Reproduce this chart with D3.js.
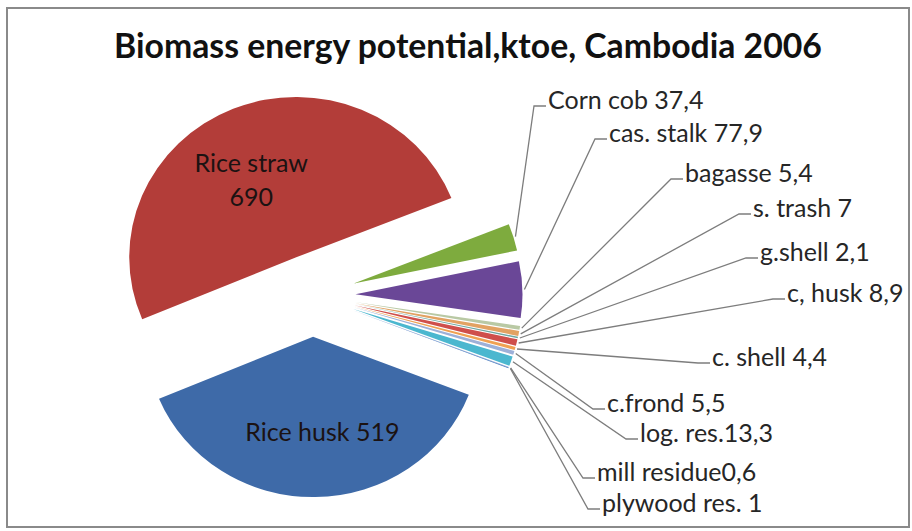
<!DOCTYPE html>
<html>
<head>
<meta charset="utf-8">
<script src="https://cdn.jsdelivr.net/npm/d3@7"></script>
<style>
	body { margin: 0; background: #fff; }
	svg { display: block; font-family: Lato, "Open Sans", sans-serif; }
	.title { font-weight: bold; fill: #111; }
	.leader { fill: none; stroke: #7d7d7d; stroke-width: 1.3; }
	.label { fill: #262626; }
	.inner { fill: #1b1212; }
</style>
</head>
<body>
<div id="graphic"></div>
<script>
// Data, clockwise from the rice straw slice
var NAMES = ['Rice straw', 'Corn cob', 'cas. stalk', 'bagasse', 's. trash', 'g.shell', 'c, husk',
	'c. shell', 'c.frond', 'log. res.', 'mill residue', 'plywood res.', 'Rice husk'];
var VALUES = [690, 37.4, 77.9, 5.4, 7, 2.1, 8.9, 4.4, 5.5, 13.3, 0.6, 1, 519];
var NO_SPACE = ['log. res.', 'mill residue'];
var TITLE = 'Biomass energy potential,ktoe, Cambodia 2006';

// Styles
var COLORS = ['#b33d39', '#7eab3e', '#6a4797', '#b9c9a4', '#e2a262', '#6fa7a1', '#cf4f4b',
	'#f0a152', '#9db0d8', '#4bb7cf', '#8c9fd0', '#4a7cc0', '#3e6aa8'];

// Layout
var WIDTH = 912;
var HEIGHT = 531;
var CENTER = [312.5, 295.5];
var RADIUS = 167;
var SQUASH = 0.96;
var EXPLODE = 43;
var START = 247.3 * Math.PI / 180;
var LABEL_SIZE = 25;

// where the outside labels were dragged to: [left x, middle y]
var LABEL_POS = {
	'Corn cob': [548, 100],
	'cas. stalk': [609, 133],
	'bagasse': [685, 173],
	's. trash': [753, 208],
	'g.shell': [760, 252],
	'c, husk': [787, 293],
	'c. shell': [712, 357],
	'c.frond': [607, 403],
	'log. res.': [640, 433],
	'mill residue': [597, 472],
	'plywood res.': [602, 503]
};
var INNER = ['Rice straw', 'Rice husk'];
var INNER_NUDGE = { 'Rice straw': [-9, 8], 'Rice husk': [8, 4] };

function fmt(v) {
	return String(v).replace('.', ',');
}

function render() {
	var svg = d3.select('#graphic').append('svg')
		.attr('width', WIDTH)
		.attr('height', HEIGHT);

	// chart frame
	svg.append('rect')
		.attr('x', 7).attr('y', 8)
		.attr('width', WIDTH - 10).attr('height', HEIGHT - 12)
		.attr('fill', '#fff')
		.attr('stroke', '#8a8a8a')
		.attr('stroke-width', 2);

	var title = svg.append('text')
		.attr('class', 'title')
		.attr('x', 468)
		.attr('y', 58)
		.attr('text-anchor', 'middle')
		.style('font-size', '30px')
		.text(TITLE);
	var tw = title.node().getComputedTextLength();
	title.style('font-size', (30 * 708 / tw) + 'px');

	var data = NAMES.map(function(n, i) {
		return { name: n, value: VALUES[i], color: COLORS[i] };
	});

	var pie = d3.pie()
		.sort(null)
		.value(function(d) { return d.value; })
		.startAngle(START)
		.endAngle(START + 2 * Math.PI);

	var arcs = pie(data);

	var arc = d3.arc()
		.innerRadius(0)
		.outerRadius(RADIUS);

	function mid(d) {
		return (d.startAngle + d.endAngle) / 2;
	}

	// point at angle a and radius r, measured from the exploded apex of slice d
	function point(d, a, r) {
		var m = mid(d);
		return [
			CENTER[0] + Math.sin(m) * EXPLODE + Math.sin(a) * r,
			CENTER[1] + SQUASH * (-Math.cos(m) * EXPLODE - Math.cos(a) * r)
		];
	}

	var pieG = svg.append('g')
		.attr('transform', 'translate(' + CENTER + ') scale(1,' + SQUASH + ')');

	pieG.selectAll('path')
		.data(arcs)
		.enter().append('path')
		.attr('d', arc)
		.attr('fill', function(d) { return d.data.color; })
		.attr('transform', function(d) {
			var m = mid(d);
			return 'translate(' + [Math.sin(m) * EXPLODE, -Math.cos(m) * EXPLODE] + ')';
		});

	// inner labels on the two big slices
	var inner = arcs.filter(function(d) { return INNER.indexOf(d.data.name) > -1; });
	inner.forEach(function(d) {
		var p = point(d, mid(d), RADIUS * 0.57);
		var n = INNER_NUDGE[d.data.name];
		var t = svg.append('text')
			.attr('class', 'inner')
			.attr('text-anchor', 'middle')
			.style('font-size', LABEL_SIZE + 'px')
			.attr('x', p[0] + n[0])
			.attr('y', p[1] + n[1]);
		if (d.data.name == 'Rice straw') {
			t.append('tspan').attr('x', p[0] + n[0]).attr('dy', '-0.35em').text(d.data.name);
			t.append('tspan').attr('x', p[0] + n[0]).attr('dy', '1.35em').text(fmt(d.data.value));
		} else {
			t.attr('dy', '0.35em').text(d.data.name + ' ' + fmt(d.data.value));
		}
	});

	// leader lines and outside labels
	var outer = arcs.filter(function(d) { return LABEL_POS[d.data.name]; });

	var line = d3.line();

	svg.append('g')
		.selectAll('path')
		.data(outer)
		.enter().append('path')
		.attr('class', 'leader')
		.attr('d', function(d) {
			var lp = LABEL_POS[d.data.name];
			var y = lp[1] + 6;
			return line([point(d, mid(d), RADIUS + 2), [lp[0] - 14, y], [lp[0] - 2, y]]);
		});

	svg.append('g')
		.selectAll('text')
		.data(outer)
		.enter().append('text')
		.attr('class', 'label')
		.attr('x', function(d) { return LABEL_POS[d.data.name][0]; })
		.attr('y', function(d) { return LABEL_POS[d.data.name][1]; })
		.attr('dy', '0.35em')
		.style('font-size', LABEL_SIZE + 'px')
		.text(function(d) {
			var sep = NO_SPACE.indexOf(d.data.name) > -1 ? '' : ' ';
			return d.data.name + sep + fmt(d.data.value);
		});
}

document.addEventListener('DOMContentLoaded', render);
</script>
</body>
</html>
